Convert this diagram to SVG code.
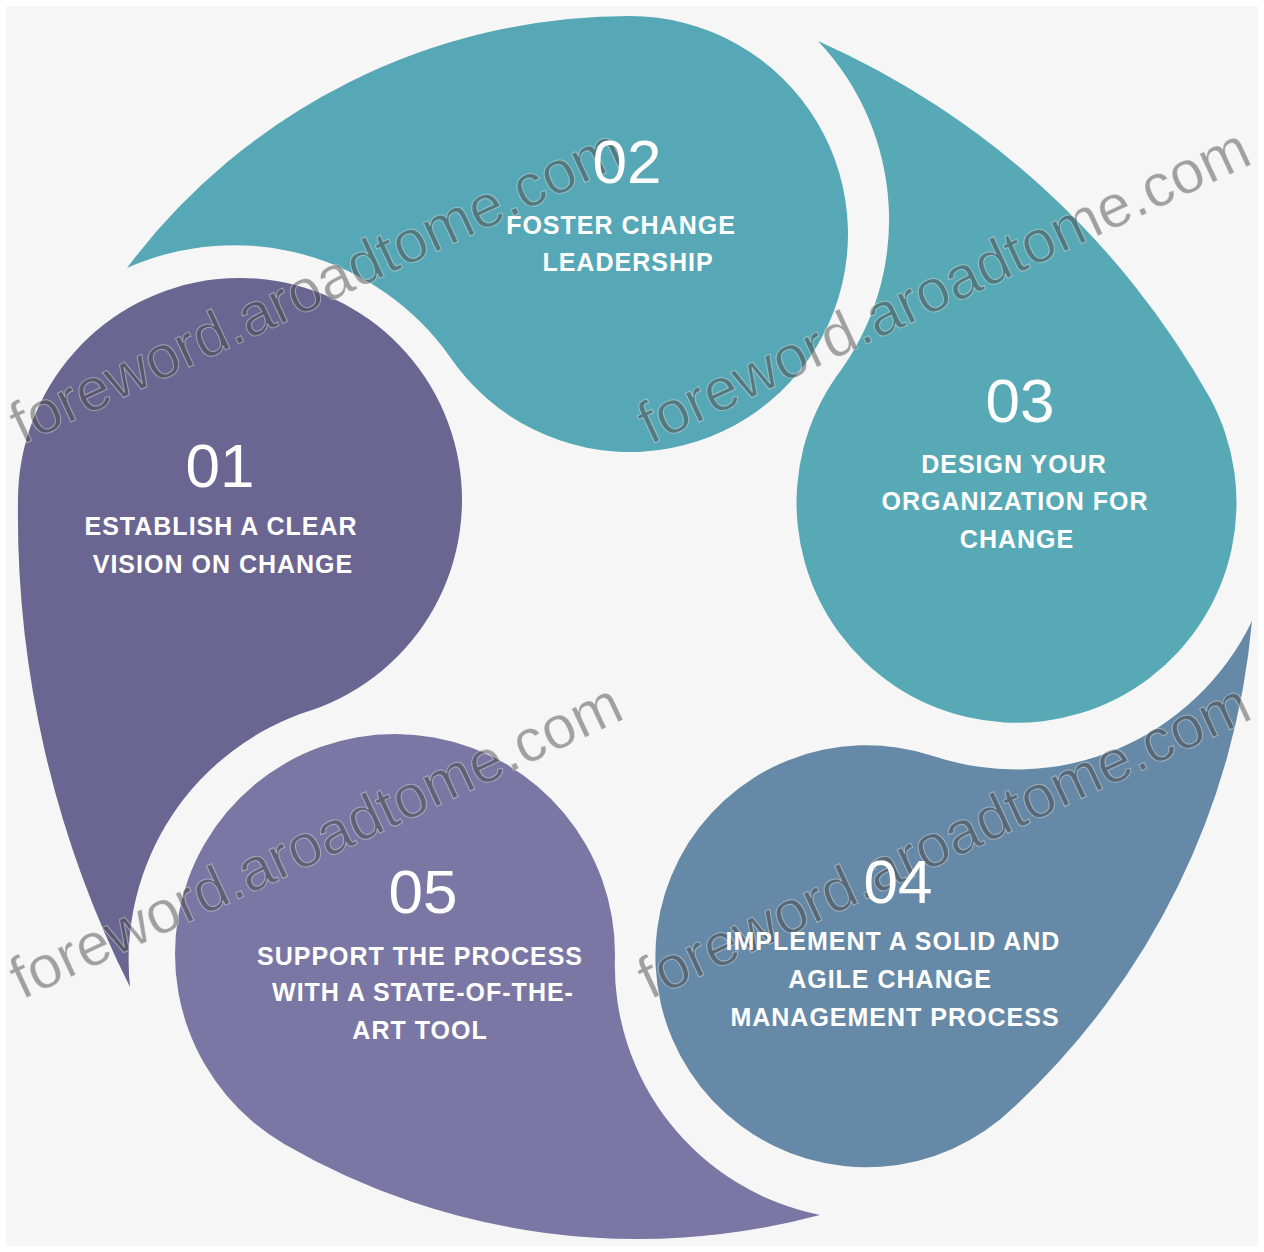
<svg xmlns="http://www.w3.org/2000/svg" width="1264" height="1252" viewBox="0 0 1264 1252">
  <style>
    .num { font-family: "Liberation Sans", Arial, sans-serif; font-size: 62px; fill: #ffffff; text-anchor: middle; }
    .lbl { font-family: "Liberation Sans", Arial, sans-serif; font-size: 25px; font-weight: bold; fill: #ffffff; text-anchor: middle; letter-spacing: 1px; }
    .wm { font-family: "Liberation Sans", Arial, sans-serif; font-size: 60px; fill: #4a4a4a; fill-opacity: 0.5; stroke: #ffffff; stroke-opacity: 0.4; stroke-width: 1; }
    .c1 { fill: #6a6591; }
    .c2 { fill: #56a8b6; }
    .c3 { fill: #57a9b6; }
    .c4 { fill: #6589a6; }
    .c5 { fill: #7b77a4; }
  </style>
  <rect x="0" y="0" width="1264" height="1252" fill="#ffffff"/>
  <rect x="6" y="6" width="1252" height="1240" fill="#f6f6f6"/>

  <g id="node-01">
    <path class="c1" d="M 130 987 A 1050 1050 0 0 1 18 500 A 222 222 0 1 1 312 710 A 262 262 0 0 0 130 987 Z"/>
  </g>
  <g id="node-02">
    <path class="c2" d="M 127 268 A 628 628 0 0 1 630 16 A 218 218 0 1 1 450 357 A 264 264 0 0 0 127 268 Z"/>
  </g>
  <g id="node-03">
    <path class="c3" d="M 818 41 A 840 840 0 0 1 1210 398 A 220 220 0 1 1 836 377 A 260 260 0 0 0 818 41 Z"/>
  </g>
  <g id="node-04">
    <path class="c4" d="M 1252 621 A 755 755 0 0 1 1014 1107 A 211 211 0 1 1 933 756 A 262 262 0 0 0 1252 621 Z"/>
  </g>
  <g id="node-05">
    <path class="c5" d="M 820 1215 A 705 705 0 0 1 285 1144.5 A 220 220 0 1 1 615 955 A 255 255 0 0 0 820 1215 Z"/>
  </g>

  <g id="connectors"></g>

  <g id="watermark">
    <text class="wm" x="22" y="445" transform="rotate(-25 22 445)">foreword.aroadtome.com</text>
    <text class="wm" x="650" y="445" transform="rotate(-25 650 445)">foreword.aroadtome.com</text>
    <text class="wm" x="22" y="1000" transform="rotate(-25 22 1000)">foreword.aroadtome.com</text>
    <text class="wm" x="650" y="1000" transform="rotate(-25 650 1000)">foreword.aroadtome.com</text>
  </g>

  <g id="labels-01">
    <text class="num" x="220" y="487">01</text>
    <text class="lbl" x="221" y="535">ESTABLISH A CLEAR</text>
    <text class="lbl" x="223" y="573">VISION ON CHANGE</text>
  </g>
  <g id="labels-02">
    <text class="num" x="627" y="183">02</text>
    <text class="lbl" x="621" y="234">FOSTER CHANGE</text>
    <text class="lbl" x="628" y="271">LEADERSHIP</text>
  </g>
  <g id="labels-03">
    <text class="num" x="1020" y="422">03</text>
    <text class="lbl" x="1014" y="473">DESIGN YOUR</text>
    <text class="lbl" x="1015" y="510">ORGANIZATION FOR</text>
    <text class="lbl" x="1017" y="548">CHANGE</text>
  </g>
  <g id="labels-04">
    <text class="num" x="898" y="903">04</text>
    <text class="lbl" x="893" y="950">IMPLEMENT A SOLID AND</text>
    <text class="lbl" x="890" y="988">AGILE CHANGE</text>
    <text class="lbl" x="895" y="1026">MANAGEMENT PROCESS</text>
  </g>
  <g id="labels-05">
    <text class="num" x="423" y="913">05</text>
    <text class="lbl" x="420" y="965">SUPPORT THE PROCESS</text>
    <text class="lbl" x="423" y="1001">WITH A STATE-OF-THE-</text>
    <text class="lbl" x="420" y="1039">ART TOOL</text>
  </g>
</svg>
